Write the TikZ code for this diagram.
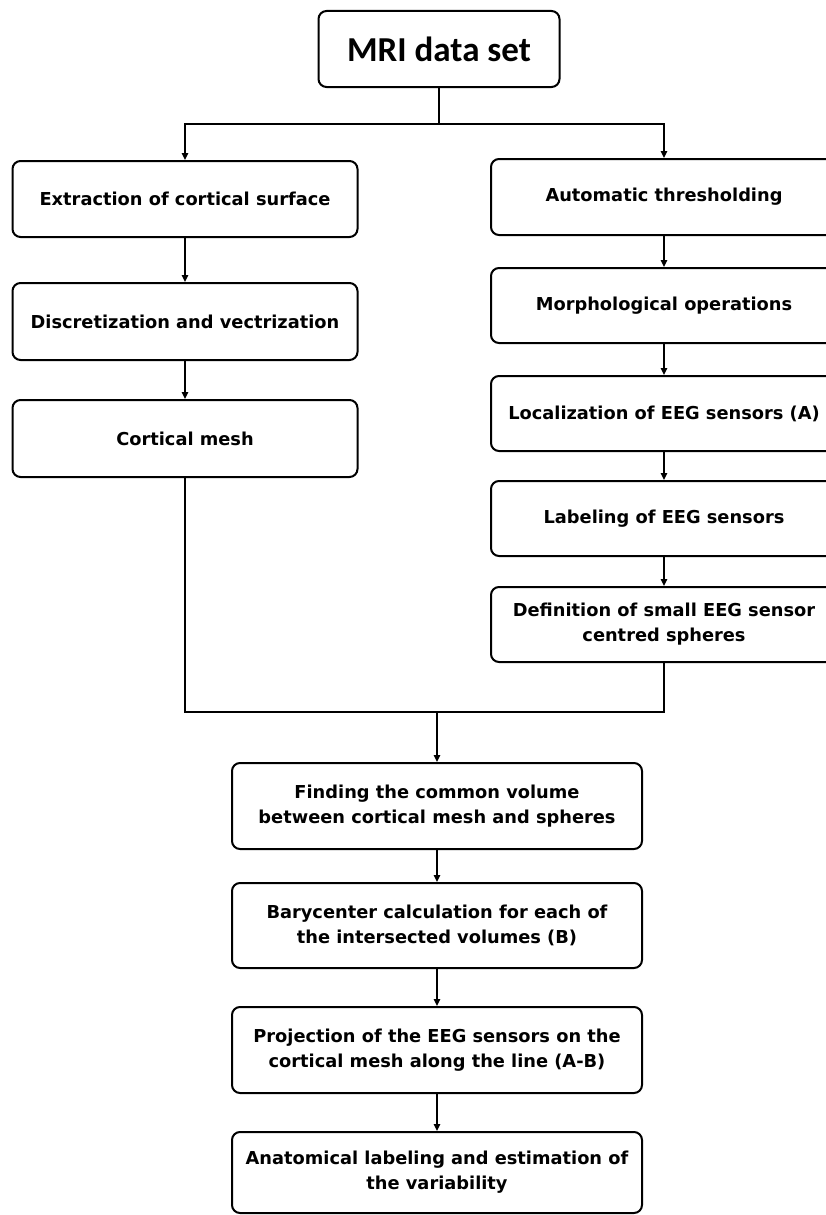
\documentclass[tikz,border=0pt]{standalone}
\usepackage{fontspec}
\setmainfont{DejaVu Sans}
\newfontfamily\mrifont{Carlito}
\usetikzlibrary{arrows.meta}
\begin{document}
\begin{tikzpicture}[x=1pt,y=-1pt,
  box/.style={draw, line width=2pt, rounded corners=8pt, align=center, inner sep=0pt,
    font=\bfseries\fontsize{17.8}{25}\selectfont},
  conn/.style={line width=1.5pt, -{Triangle[length=7pt,width=6.5pt]}},
  plain/.style={line width=1.5pt}]
\useasboundingbox (0,0) rectangle (826,1215);
\fill[white] (0,0) rectangle (826,1215);
% top
\node[box, minimum width=241pt, minimum height=76pt, font=\mrifont\bfseries\fontsize{35}{40}\selectfont] (mri) at (439,49) {MRI data set};
% left column
\node[box, minimum width=345pt, minimum height=76pt] (ext) at (185,199) {Extraction of cortical surface};
\node[box, minimum width=345pt, minimum height=77pt] (disc) at (185,321.5) {Discretization and vectrization};
\node[box, minimum width=345pt, minimum height=77pt] (cort) at (185,438.5) {Cortical mesh};
% right column
\node[box, minimum width=346pt, minimum height=76pt] (auto) at (664,197) {Automatic thresholding};
\node[box, minimum width=346pt, minimum height=75pt] (morph) at (664,305.5) {Morphological operations};
\node[box, minimum width=346pt, minimum height=75pt] (loc) at (664,413.5) {Localization of EEG sensors (A)};
\node[box, minimum width=346pt, minimum height=75pt] (lab) at (664,518.5) {Labeling of EEG sensors};
\node[box, minimum width=346pt, minimum height=75pt] (def) at (664,624.5) {Definition of small EEG sensor\\centred spheres};
% bottom column
\node[box, minimum width=410pt, minimum height=86pt] (find) at (437,806) {Finding the common volume\\between cortical mesh and spheres};
\node[box, minimum width=410pt, minimum height=85pt] (bary) at (437,925.5) {Barycenter calculation for each of\\the intersected volumes (B)};
\node[box, minimum width=410pt, minimum height=86pt] (proj) at (437,1050) {Projection of the EEG sensors on the\\cortical mesh along the line (A-B)};
\node[box, minimum width=410pt, minimum height=81pt] (anat) at (437,1172.5) {Anatomical labeling and estimation of\\the variability};
% connectors
\coordinate (split) at (439,124);
\coordinate (join) at (437,712);
\draw[plain] (mri.south) -- (split);
\draw[conn] (split) -| (ext.north);
\draw[conn] (split) -| (auto.north);
\draw[conn] (ext) -- (disc);
\draw[conn] (disc) -- (cort);
\draw[conn] (auto) -- (morph);
\draw[conn] (morph) -- (loc);
\draw[conn] (loc) -- (lab);
\draw[conn] (lab) -- (def);
\draw[plain] (cort.south) |- (join);
\draw[plain] (def.south) |- (join);
\draw[conn] (join) -- (find.north);
\draw[conn] (find) -- (bary);
\draw[conn] (bary) -- (proj);
\draw[conn] (proj) -- (anat);
\end{tikzpicture}
\end{document}
